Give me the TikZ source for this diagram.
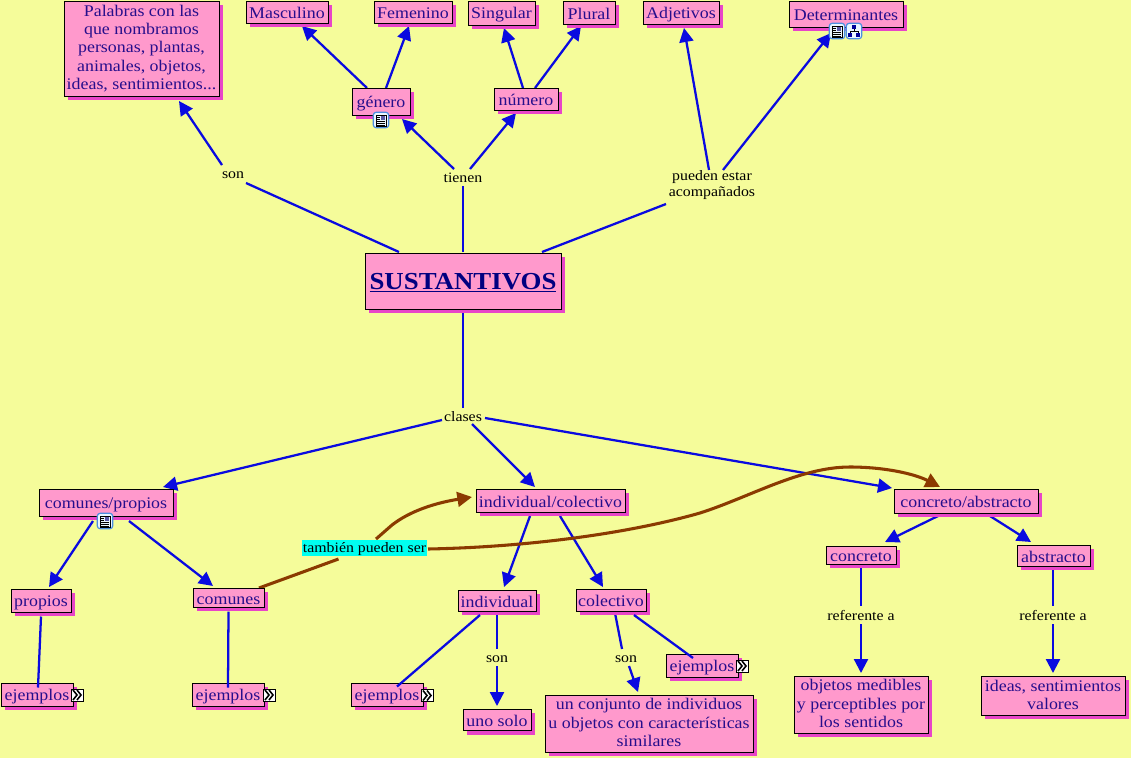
\documentclass[tikz,border=0pt]{standalone}
\usepackage{fontspec}
\setmainfont[FakeStretch=1.1]{Liberation Serif}
\usetikzlibrary{calc,shadows,arrows.meta}
\definecolor{pagebg}{HTML}{F5FC9A}
\definecolor{boxfill}{HTML}{FF99CC}
\definecolor{boxshadow}{HTML}{E845C8}
\definecolor{boxtext}{HTML}{260E8C}
\definecolor{linkblue}{HTML}{0A0AE0}
\definecolor{linkbrown}{HTML}{8B3A00}
\definecolor{cyanbg}{HTML}{00FFF0}
\definecolor{iconedge}{HTML}{4C8FE0}
\definecolor{iconfill}{HTML}{EAF6FF}
\pgfdeclarelayer{bg}
\pgfdeclarelayer{links}
\pgfsetlayers{bg,links,main}
\tikzset{
  x=0.75pt,y=-0.75pt,
  box/.style 2 args={draw=black,line width=.75pt,fill=boxfill,text=boxtext,inner sep=0pt,outer sep=0pt,
    align=center,font=\fontsize{12.2}{13.7}\selectfont,
    execute at begin node={\rule{0pt}{11.5pt}},
    execute at end node={\rule[-1.5pt]{0pt}{1.5pt}},
    minimum width=#1*0.75pt,minimum height=#2*0.75pt,
    drop shadow={shadow xshift=3pt,shadow yshift=-3pt,fill=boxshadow,opacity=1}},
  lab/.style={inner sep=0pt,align=center,text=black,font=\fontsize{10.8}{12}\selectfont,
    execute at begin node={\rule{0pt}{9.5pt}},
    execute at end node={\rule[-1.5pt]{0pt}{1.5pt}}},
  link/.style={draw=linkblue,line width=1.7pt},
  arr/.style={link,-{Triangle[length=10.5pt,width=10.5pt]}},
  brown/.style={draw=linkbrown,line width=2.3pt},
  brarr/.style={brown,-{Triangle[length=11pt,width=11pt]}},
  docicon/.style={draw=iconedge,fill=iconfill,rounded corners=2pt,line width=.9pt,minimum size=11.5pt,inner sep=0pt},
  morebox/.style={draw=black,fill=white,line width=.7pt,minimum size=9pt,inner sep=0pt},
  chev/.style={draw=black,line width=1.2pt},
}
\newcommand{\lk}[7][link]{\draw[#1] ($(#2)+(#3)$) -- ($(#5)+(#6)$);}
\newcommand{\docglyph}[1]{%
  \draw[black,line width=.45pt] ($(#1)+(-5,-5)$) rectangle ($(#1)+(5,6)$);
  \fill[blue!30!gray] ($(#1)+(0,-4)$) rectangle ($(#1)+(4,0)$);
  \foreach \yy in {-3,-1,1,3,5}{\draw[black,line width=.45pt] ($(#1)+(-4,\yy)$) -- ($(#1)+(\ifnum\yy<1 -1\else 4\fi,\yy)$);}}
\newcommand{\treeglyph}[1]{%
  \fill[black!40!blue] ($(#1)+(-2,-6)$) rectangle ($(#1)+(2,-2)$);
  \fill[black!40!blue] ($(#1)+(-6,2)$) rectangle ($(#1)+(-2,6)$);
  \fill[black!40!blue] ($(#1)+(2,2)$) rectangle ($(#1)+(6,6)$);
  \draw[black,line width=.5pt] ($(#1)+(0,-2)$) -- ($(#1)+(0,0)$) ($(#1)+(-4,2)$) -- ($(#1)+(-4,0)$) -- ($(#1)+(4,0)$) -- ($(#1)+(4,2)$);}
\newcommand{\chevglyph}[1]{%
  \draw[chev] ($(#1)+(-4,-5)$) -- ($(#1)+(0,0)$) -- ($(#1)+(-4,5)$);
  \draw[chev] ($(#1)+(0,-5)$) -- ($(#1)+(4,0)$) -- ($(#1)+(0,5)$);}
\begin{document}
\begin{tikzpicture}
\begin{pgfonlayer}{bg}
\fill[pagebg] (0,0) rectangle (1131,758);
\end{pgfonlayer}
\useasboundingbox (0,0) rectangle (1131,758);

\node[box={155}{95}] (pal) at (141.5,48.5) {Palabras con las\\que nombramos\\personas, plantas,\\animales, objetos,\\ideas, sentimientos...};
\node[box={82}{22}] (masc) at (287,12) {Masculino};
\node[box={78}{22}] (fem) at (413,12) {Femenino};
\node[box={67}{24}] (sing) at (501.5,13) {Singular};
\node[box={52}{23}] (plur) at (589,12.5) {Plural};
\node[box={76}{23}] (adj) at (681,12.5) {Adjetivos};
\node[box={114}{26}] (det) at (846,14) {Determinantes};
\node[box={58}{27}] (gen) at (381,101.5) {género};
\node[box={64}{22}] (num) at (526,99) {número};
\node[box={196}{56}] (sus) at (463,281) {\fontsize{18.3}{20}\selectfont\color[HTML]{000080}\bfseries\rule[-4pt]{0pt}{20pt}\underline{SUSTANTIVOS}};
\node[box={134}{27}] (cp) at (106,502.5) {comunes/propios};
\node[box={149}{23}] (ic) at (550.5,500.5) {individual/colectivo};
\node[box={144}{24}] (ca) at (966,501) {concreto/abstracto};
\node[box={60}{23}] (pro) at (41,600.5) {propios};
\node[box={71}{19}] (com) at (228.5,597.5) {comunes};
\node[box={72}{23}] (ej1) at (37,694.5) {ejemplos};
\node[box={72}{23}] (ej2) at (228,694.5) {ejemplos};
\node[box={72}{23}] (ej3) at (387,694.5) {ejemplos};
\node[box={78}{21}] (ind) at (497,600.5) {individual};
\node[box={70}{22}] (col) at (611,600) {colectivo};
\node[box={72}{23}] (ej4) at (702,665.5) {ejemplos};
\node[box={68}{21.5}] (uno) at (497,720) {uno solo};
\node[box={208}{57}] (conj) at (649,723.5) {un conjunto de individuos\\u objetos con características\\similares};
\node[box={70}{18}] (conc) at (861,555) {concreto};
\node[box={73}{21}] (abst) at (1053.5,555.5) {abstracto};
\node[box={134}{57}] (obj) at (861,704.5) {objetos medibles\\y perceptibles por\\los sentidos};
\node[box={144}{39}] (ideas) at (1053,695.5) {ideas, sentimientos\\valores};

\node[lab] (lson) at (233,173) {son};
\node[lab] (lt) at (463,177) {tienen};
\node[lab] (lp) at (712,185) {pueden estar\\acompañados};
\node[lab] (lc) at (463,416) {clases};
\node[lab,fill=cyanbg,minimum width=125*0.75pt,minimum height=16*0.75pt] (lt2) at (364.5,548) {también pueden ser};
\node[lab] (ls1) at (497,657) {son};
\node[lab] (ls2) at (626,657) {son};
\node[lab] (lr1) at (861,615) {referente a};
\node[lab] (lr2) at (1053,615) {referente a};

\node[docicon] (ig) at (381,120) {};
\docglyph{ig}
\node[docicon] (id) at (837,31) {};
\docglyph{id}
\node[docicon] (it) at (854,31) {};
\treeglyph{it}
\node[docicon] (ic1) at (105,521) {};
\docglyph{ic1}

\begin{pgfonlayer}{links}
\lk{sus}{-64,-29}{}{lson}{13,10}{}
\lk[arr]{lson}{-11,-8}{}{pal}{37.5,52.5}{}
\lk{sus}{0,-29}{}{lt}{0,9}{}
\lk[arr]{lt}{-9,-8}{}{gen}{21,17.5}{}
\lk[arr]{lt}{7,-8}{}{num}{-10,14}{}
\lk[arr]{gen}{-14,-13.5}{}{masc}{15,14}{}
\lk[arr]{gen}{5,-13.5}{}{fem}{-4,14}{}
\lk[arr]{num}{-3,-11}{}{sing}{2.5,15}{}
\lk[arr]{num}{9,-11}{}{plur}{-8,13.5}{}
\lk{sus}{79,-29}{}{lp}{-46,19}{}
\lk[arr]{lp}{-3,-15}{}{adj}{3,15.5}{}
\lk[arr]{lp}{11,-15}{}{det}{-15,19}{}
\lk{sus}{0,28}{}{lc}{0,-8}{}
\lk[arr]{lc}{-21,4}{}{cp}{57,-15.5}{}
\lk[arr]{lc}{9,8}{}{ic}{-15.5,-13.5}{}
\lk[arr]{lc}{22,2}{}{ca}{-74,-13}{}
\lk[arr]{cp}{-13,18.5}{}{pro}{8,-13.5}{}
\lk[arr]{cp}{23,18.5}{}{com}{-15.5,-11.5}{}
\lk[arr]{ic}{-20.5,15.5}{}{ind}{7,-13.5}{}
\lk[arr]{ic}{9.5,15.5}{}{col}{-8,-13}{}
\lk{ind}{0,10.5}{}{ls1}{0,-8}{}
\lk[arr]{ls1}{0,9}{}{uno}{0,-14}{}
\lk{col}{4,13}{}{ls2}{-4,-8}{}
\lk[arr]{ls2}{3,9}{}{conj}{-11,-31.5}{}
\lk[arr]{ca}{-28,15}{}{conc}{24,-13}{}
\lk[arr]{ca}{24,15}{}{abst}{-22.5,-13.5}{}
\lk{conc}{0,13}{}{lr1}{0,-9}{}
\lk[arr]{lr1}{0,9}{}{obj}{0,-31.5}{}
\lk{abst}{-0.5,14.5}{}{lr2}{0,-9}{}
\lk[arr]{lr2}{0,9}{}{ideas}{0,-22.5}{}
\lk[brown]{com}{30.5,-9.5}{}{lt2}{-26,11}{}
\draw[brarr] ($(lt2)+(11.5,-9)$) -- (392,525) .. controls (410,511) and (435,503) .. ($(ic)+(-78.5,-3.5)$);
\draw[brarr] ($(lt2)+(63.5,1)$) .. controls (530,547) and (630,533) .. (700,513)
  .. controls (750,497) and (800,467) .. (850,467)
  .. controls (885,467) and (915,474) .. ($(ca)+(-26,-14)$);
\end{pgfonlayer}

% these four connectors run over the boxes they reach
\lk{pro}{0,16}{}{ej1}{1,-7}{}
\lk{com}{0,14}{}{ej2}{0,-7}{}
\lk{ind}{-17,14.5}{}{ej3}{10,-8}{}
\lk{col}{23,15}{}{ej4}{-9,-7.5}{}

\node[morebox] (m1) at (77,695) {};
\chevglyph{m1}
\node[morebox] (m2) at (269,695) {};
\chevglyph{m2}
\node[morebox] (m3) at (427,695.5) {};
\chevglyph{m3}
\node[morebox] (m4) at (742,666) {};
\chevglyph{m4}
\end{tikzpicture}
\end{document}
